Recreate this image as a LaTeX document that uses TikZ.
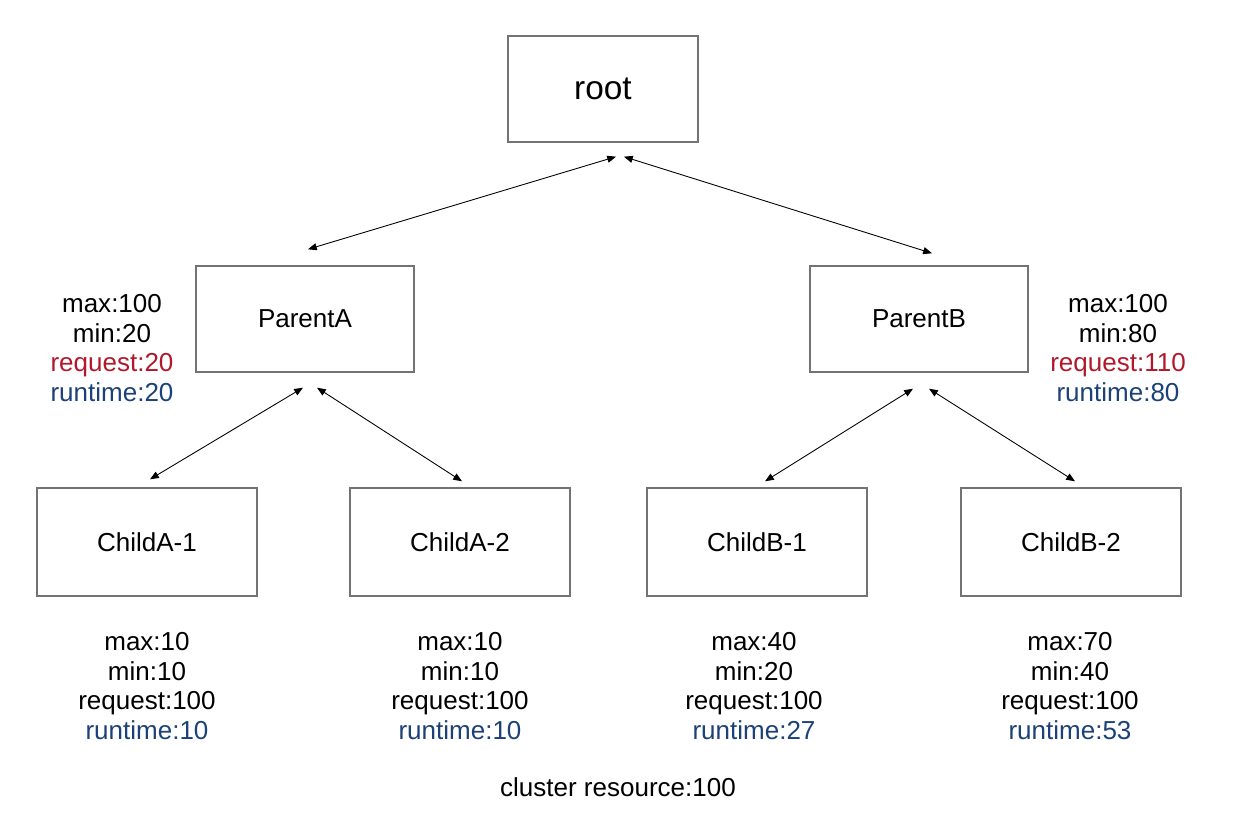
\documentclass[tikz,border=0pt]{standalone}
\usepackage{fontspec}
\setmainfont{Liberation Sans}
\usetikzlibrary{arrows.meta, calc}

\definecolor{reqred}{RGB}{178,24,43}
\definecolor{runblue}{RGB}{28,64,120}

\begin{document}
\begin{tikzpicture}[>={Triangle[length=5pt,width=4pt]},
		box/.style={draw=black!55, line width=0.8pt, minimum width=4.4cm, minimum height=2.16cm, font=\fontsize{14.8}{17}\selectfont},
		info/.style={align=center, font=\fontsize{14.8}{17}\selectfont},
		link/.style={<->, line width=0.5pt}]
			\useasboundingbox (0,0) rectangle (24.8,16.4);
			
			% Root
			\node[box, minimum width=3.8cm, minimum height=2.12cm, font=\fontsize{19}{22}\selectfont] (root) at (12.06,14.62) {root};
			
			% Parents
			\node[box, minimum width=4.36cm, minimum height=2.12cm] (parentA) at (6.1,10.02) {ParentA};
			\node[box, minimum width=4.36cm, minimum height=2.12cm] (parentB) at (18.38,10.02) {ParentB};
			
			% Children
			\node[box] (childA1) at (2.94,5.56) {ChildA-1};
			\node[box] (childA2) at (9.2,5.56) {ChildA-2};
			\node[box] (childB1) at (15.14,5.56) {ChildB-1};
			\node[box] (childB2) at (21.42,5.56) {ChildB-2};
			
			% Links
			\draw[link] ($(root.south)+(0.26,-0.28)$) -- ($(parentA.north)+(0.06,0.32)$);
			\draw[link] ($(root.south)+(0.42,-0.28)$) -- ($(parentB.north)+(0.26,0.24)$);
			\draw[link] ($(parentA.south)+(-0.04,-0.3)$) -- ($(childA1.north)+(0.06,0.16)$);
			\draw[link] ($(parentA.south)+(0.24,-0.3)$) -- ($(childA2.north)+(0.04,0.12)$);
			\draw[link] ($(parentB.south)+(-0.12,-0.32)$) -- ($(childB1.north)+(0.16,0.12)$);
			\draw[link] ($(parentB.south)+(0.2,-0.32)$) -- ($(childB2.north)+(0.08,0.12)$);
			
			% Quotas of the parents
			\node[info] (infoA) at (2.24,9.44) {max:100\\min:20\\\textcolor{reqred}{request:20}\\\textcolor{runblue}{runtime:20}};
			\node[info] (infoB) at (22.36,9.44) {max:100\\min:80\\\textcolor{reqred}{request:110}\\\textcolor{runblue}{runtime:80}};
			
			% Quotas of the children
			\node[info] (infoA1) at (2.94,2.68) {max:10\\min:10\\request:100\\\textcolor{runblue}{runtime:10}};
			\node[info] (infoA2) at (9.2,2.68) {max:10\\min:10\\request:100\\\textcolor{runblue}{runtime:10}};
			\node[info] (infoB1) at (15.08,2.68) {max:40\\min:20\\request:100\\\textcolor{runblue}{runtime:27}};
			\node[info] (infoB2) at (21.4,2.68) {max:70\\min:40\\request:100\\\textcolor{runblue}{runtime:53}};
			
			% Cluster
			\node[info] (cluster) at (12.36,0.66) {cluster resource:100};
			
\end{tikzpicture}
\end{document}
